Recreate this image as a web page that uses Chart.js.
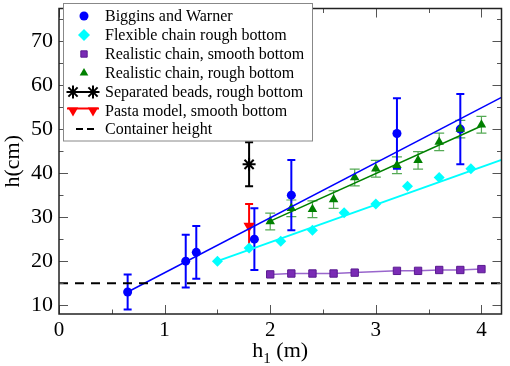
<!DOCTYPE html>
<html>
<head>
<meta charset="utf-8">
<script src="https://cdn.jsdelivr.net/npm/chart.js@4.4.1/dist/chart.umd.min.js"></script>
<style>
  html, body { margin: 0; padding: 0; background: #fff; }
  #wrap { width: 510px; height: 366px; }
  #probe { position: absolute; left: -999px; top: 0; font-family: "Liberation Serif"; font-size: 16px; }
</style>
</head>
<body>
<div id="wrap"><canvas id="myChart" width="510" height="366"></canvas></div>
<span id="probe">h(cm) 0123456789</span>
<script>
// series names (legend order)
const seriesNames = [
    'Biggins and Warner',
    'Flexible chain rough bottom',
    'Realistic chain, smooth bottom',
    'Realistic chain, rough bottom',
    'Separated beads, rough bottom',
    'Pasta model, smooth bottom',
    'Container height'
];

// Biggins and Warner
const bwX = [0.65, 1.2, 1.3, 1.85, 2.2, 3.2, 3.8];
const bwY = [13, 20, 22, 25, 35, 49, 50];
const bwErr = [4, 6, 6, 7, 8, 8, 8];
const bwFitX = [0.65, 4.19];
const bwFitY = [13, 57.2];

// flexible chain, rough bottom
const flexX = [1.5, 1.8, 2.1, 2.4, 2.7, 3.0, 3.3, 3.6, 3.9];
const flexY = [20, 23, 24.5, 27, 31, 33, 37, 39, 41];
const flexFitX = [1.5, 4.19];
const flexFitY = [20, 43];

// realistic chain, smooth bottom
const smoothX = [2.0, 2.2, 2.4, 2.6, 2.8, 3.2, 3.4, 3.6, 3.8, 4.0];
const smoothY = [17.0, 17.2, 17.2, 17.2, 17.4, 17.8, 17.8, 18.0, 18.0, 18.2];
const smoothErr = [0.4, 0.4, 0.4, 0.4, 0.4, 0.4, 0.4, 0.4, 0.4, 0.4];

// realistic chain, rough bottom
const roughX = [2.0, 2.2, 2.4, 2.6, 2.8, 3.0, 3.2, 3.4, 3.6, 3.8, 4.0];
const roughY = [29, 32, 31.8, 34, 39, 41, 41.8, 42.9, 47.1, 50, 51];
const roughErr = [1.9, 1.9, 1.9, 2, 1.9, 1.9, 1.9, 2, 2, 2, 1.9];
const roughFitX = [2.0, 4.0];
const roughFitY = [29.1, 50.7];

// single points
const beadsX = [1.8];
const beadsY = [42];
const beadsErr = [5];
const pastaX = [1.8];
const pastaY = [28];
const pastaErr = [5];

// container height
const contX = [0, 4.19];
const contY = [15, 15];

const xTicks = [0, 1, 2, 3, 4];
const yTicks = [10, 20, 30, 40, 50, 60, 70];

const serif = '"Liberation Serif", "Times New Roman", serif';

function pts(xs, ys) {
    return xs.map((x, i) => ({ x: x, y: ys[i] }));
}

const errorBars = {
    id: 'errorBars',
    beforeDatasetsDraw(chart) {
        const { ctx, scales: { x, y } } = chart;
        chart.data.datasets.forEach(ds => {
            if (!ds.errors) return;
            ctx.save();
            ctx.strokeStyle = ds.errorColor;
            ctx.lineWidth = ds.errorWidth;
            ds.data.forEach((p, i) => {
                const px = x.getPixelForValue(p.x);
                const top = y.getPixelForValue(p.y + ds.errors[i]);
                const bot = y.getPixelForValue(p.y - ds.errors[i]);
                const c = ds.capSize;
                ctx.beginPath();
                ctx.moveTo(px, top); ctx.lineTo(px, bot);
                ctx.moveTo(px - c, top); ctx.lineTo(px + c, top);
                ctx.moveTo(px - c, bot); ctx.lineTo(px + c, bot);
                ctx.stroke();
            });
            ctx.restore();
        });
    }
};

const frame = {
    id: 'frame',
    afterDatasetsDraw(chart) {
        const { ctx, chartArea: a, scales: { x, y } } = chart;
        ctx.save();
        ctx.strokeStyle = '#555';
        ctx.lineWidth = 1;
        ctx.beginPath();
        for (let v = 0; v <= 4.19; v += 0.5) {
            const px = Math.round(x.getPixelForValue(v)) + 0.5;
            const len = (v % 1 === 0) ? 9 : 4.5;
            ctx.moveTo(px, a.bottom); ctx.lineTo(px, a.bottom - len);
            ctx.moveTo(px, a.top); ctx.lineTo(px, a.top + len);
        }
        for (let v = 10; v <= 77; v += 5) {
            const py = Math.round(y.getPixelForValue(v)) + 0.5;
            const len = (v % 10 === 0) ? 9 : 4.5;
            ctx.moveTo(a.left, py); ctx.lineTo(a.left + len, py);
            ctx.moveTo(a.right, py); ctx.lineTo(a.right - len, py);
        }
        ctx.stroke();
        ctx.strokeStyle = '#222';
        ctx.lineWidth = 1.5;
        ctx.strokeRect(a.left, a.top, a.right - a.left, a.bottom - a.top);
        ctx.restore();
    },
    afterDraw(chart) {
        const { ctx, chartArea: a } = chart;
        const dp = Chart.helpers.drawPoint;
        ctx.save();
        // axis titles
        ctx.fillStyle = '#000';
        ctx.font = '22px ' + serif;
        ctx.textAlign = 'center';
        ctx.textBaseline = 'middle';
        ctx.save();
        ctx.translate(13, (a.top + a.bottom) / 2);
        ctx.rotate(-Math.PI / 2);
        ctx.fillText('h(cm)', 0, 0);
        ctx.restore();

        ctx.textAlign = 'left';
        ctx.textBaseline = 'alphabetic';
        ctx.font = '22px ' + serif;
        const wh = ctx.measureText('h').width;
        const wr = ctx.measureText(' (m)').width;
        ctx.font = '15px ' + serif;
        const ws = ctx.measureText('1').width;
        let tx = (a.left + a.right) / 2 - (wh + ws + wr) / 2;
        ctx.font = '22px ' + serif;
        ctx.fillText('h', tx, 357);
        ctx.font = '15px ' + serif;
        ctx.fillText('1', tx + wh, 363);
        ctx.font = '22px ' + serif;
        ctx.fillText(' (m)', tx + wh + ws, 357);

        // legend box
        ctx.fillStyle = '#fff';
        ctx.fillRect(63, 3.5, 249, 137.5);
        ctx.strokeStyle = '#888';
        ctx.lineWidth = 1;
        ctx.strokeRect(63.5, 3.5, 249, 137.5);

        const rows = [16, 35, 54, 73, 92, 110.5, 129];
        const mx = 84;
        ctx.lineWidth = 1;
        ctx.fillStyle = '#0000ff'; ctx.strokeStyle = '#0000ff';
        dp(ctx, { pointStyle: 'circle', radius: 4.5, borderWidth: 0 }, mx, rows[0]);
        ctx.fillStyle = '#00ffff'; ctx.strokeStyle = '#00ffff';
        dp(ctx, { pointStyle: 'rectRot', radius: 6, borderWidth: 0 }, mx, rows[1]);
        ctx.fillStyle = '#7a2bb5'; ctx.strokeStyle = '#5a1a90';
        dp(ctx, { pointStyle: 'rect', radius: 4.5, borderWidth: 1 }, mx, rows[2]);
        ctx.fillStyle = '#008000'; ctx.strokeStyle = '#008000';
        dp(ctx, { pointStyle: 'triangle', radius: 5, borderWidth: 0 }, mx, rows[3]);

        ctx.strokeStyle = '#000'; ctx.lineWidth = 2;
        ctx.beginPath(); ctx.moveTo(67, rows[4]); ctx.lineTo(99, rows[4]); ctx.stroke();
        dp(ctx, { pointStyle: 'star', radius: 6.5, borderWidth: 2 }, 73, rows[4]);
        dp(ctx, { pointStyle: 'star', radius: 6.5, borderWidth: 2 }, 93, rows[4]);

        ctx.strokeStyle = '#ff0000'; ctx.fillStyle = '#ff0000'; ctx.lineWidth = 2;
        ctx.beginPath(); ctx.moveTo(67, rows[5] - 2); ctx.lineTo(99, rows[5] - 2); ctx.stroke();
        dp(ctx, { pointStyle: 'triangle', radius: 6, rotation: 180, borderWidth: 0 }, 73, rows[5]);
        dp(ctx, { pointStyle: 'triangle', radius: 6, rotation: 180, borderWidth: 0 }, 93, rows[5]);

        ctx.strokeStyle = '#000'; ctx.lineWidth = 2;
        ctx.beginPath();
        ctx.moveTo(76, rows[6]); ctx.lineTo(83, rows[6]);
        ctx.moveTo(87, rows[6]); ctx.lineTo(94, rows[6]);
        ctx.stroke();

        ctx.fillStyle = '#000';
        ctx.font = '16px ' + serif;
        ctx.textAlign = 'left';
        ctx.textBaseline = 'middle';
        seriesNames.forEach((t, i) => ctx.fillText(t, 105, rows[i] + 1));
        ctx.restore();
    }
};

function drawChart() {
    const ctx = document.getElementById('myChart').getContext('2d');
    return new Chart(ctx, {
        type: 'scatter',
        data: {
            datasets: [
                {
                    label: seriesNames[6], data: pts(contX, contY), showLine: true,
                    borderColor: '#000', borderWidth: 2, borderDash: [9, 7], pointRadius: 0
                },
                {
                    label: 'bw fit', data: pts(bwFitX, bwFitY), showLine: true,
                    borderColor: '#0000ff', borderWidth: 1.5, pointRadius: 0
                },
                {
                    label: 'flex fit', data: pts(flexFitX, flexFitY), showLine: true,
                    borderColor: '#00ffff', borderWidth: 2, pointRadius: 0
                },
                {
                    label: 'rough fit', data: pts(roughFitX, roughFitY), showLine: true,
                    borderColor: '#008000', borderWidth: 1.5, pointRadius: 0
                },
                {
                    label: seriesNames[2], data: pts(smoothX, smoothY), showLine: true,
                    borderColor: '#9966cc', borderWidth: 1.5,
                    pointStyle: 'rect', pointRadius: 5.2,
                    pointBackgroundColor: '#7a2bb5', pointBorderColor: '#5a1a90', pointBorderWidth: 1,
                    errors: smoothErr, errorColor: '#5a1a90', errorWidth: 1, capSize: 3
                },
                {
                    label: seriesNames[3], data: pts(roughX, roughY), showLine: false,
                    pointStyle: 'triangle', pointRadius: 5.5,
                    pointBackgroundColor: '#008000', pointBorderColor: '#008000', pointBorderWidth: 0,
                    errors: roughErr, errorColor: '#55aa55', errorWidth: 1.2, capSize: 5
                },
                {
                    label: seriesNames[1], data: pts(flexX, flexY), showLine: false,
                    pointStyle: 'rectRot', pointRadius: 5.5,
                    pointBackgroundColor: '#00ffff', pointBorderColor: '#00ffff', pointBorderWidth: 0
                },
                {
                    label: seriesNames[0], data: pts(bwX, bwY), showLine: false,
                    pointStyle: 'circle', pointRadius: 4.5,
                    pointBackgroundColor: '#0000ff', pointBorderColor: '#0000ff', pointBorderWidth: 0,
                    errors: bwErr, errorColor: '#0000ff', errorWidth: 2, capSize: 4
                },
                {
                    label: seriesNames[4], data: pts(beadsX, beadsY), showLine: false,
                    pointStyle: 'star', pointRadius: 6.5,
                    pointBorderColor: '#000', pointBorderWidth: 2,
                    errors: beadsErr, errorColor: '#000', errorWidth: 2, capSize: 4
                },
                {
                    label: seriesNames[5], data: pts(pastaX, pastaY), showLine: false,
                    pointStyle: 'triangle', pointRotation: 180, pointRadius: 6.5,
                    pointBackgroundColor: '#ff0000', pointBorderColor: '#ff0000', pointBorderWidth: 0,
                    errors: pastaErr, errorColor: '#ff0000', errorWidth: 2, capSize: 4
                }
            ]
        },
        options: {
            responsive: false,
            animation: false,
            layout: { padding: { top: 2, right: 4, left: 0, bottom: 0 } },
            plugins: {
                legend: { display: false },
                tooltip: { enabled: false }
            },
            scales: {
                x: {
                    type: 'linear', min: 0, max: 4.19,
                    afterBuildTicks: s => { s.ticks = xTicks.map(v => ({ value: v })); },
                    afterFit: s => { s.height = 52; s.paddingLeft = 0; s.paddingRight = 0; },
                    grid: { display: false, drawTicks: false },
                    border: { display: false },
                    ticks: { color: '#000', font: { family: serif, size: 21 }, padding: 4, maxRotation: 0 }
                },
                y: {
                    type: 'linear', min: 8, max: 77.4,
                    afterBuildTicks: s => { s.ticks = yTicks.map(v => ({ value: v })); },
                    afterFit: s => { s.width = 59; s.paddingTop = 0; s.paddingBottom = 0; },
                    grid: { display: false, drawTicks: false },
                    border: { display: false },
                    ticks: { color: '#000', font: { family: serif, size: 22 }, padding: 6 }
                }
            }
        },
        plugins: [errorBars, frame]
    });
}

Promise.all([
    document.fonts.load('20px "Liberation Serif"'),
    document.fonts.load('16px "Liberation Serif"')
]).then(drawChart, drawChart);
</script>
</body>
</html>
